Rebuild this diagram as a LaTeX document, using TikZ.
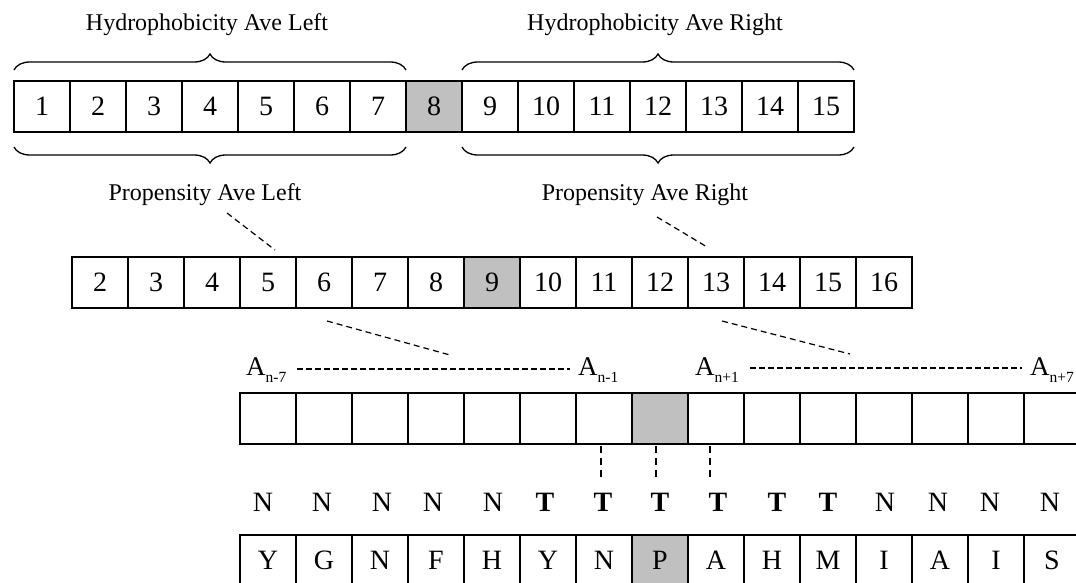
\documentclass[tikz,border=0pt]{standalone}
\usepackage{fontspec}
\setmainfont{Liberation Serif}
\usetikzlibrary{decorations.pathreplacing,calc}
\definecolor{cellgray}{HTML}{C0C0C0}
\tikzset{
  cell/.style={draw, line width=1.3pt, minimum width=56pt, minimum height=51pt,
    inner sep=0pt, outer sep=0pt, font=\fontsize{28}{30}\selectfont},
  hot/.style={cell, fill=cellgray, line width=2pt},
  caption/.style={font=\fontsize{24}{26}\selectfont, inner sep=0pt},
  tag/.style={font=\fontsize{27}{29}\selectfont, inner sep=0pt, anchor=base west},
  letter/.style={font=\fontsize{28}{30}\selectfont, inner sep=0pt},
  guide/.style={line width=1.2pt, dash pattern=on 6pt off 4pt},
  vguide/.style={line width=1.2pt, dash pattern=on 7pt off 5pt},
  curly/.style={line width=1.3pt, decorate, decoration={brace, amplitude=16pt}},
}
\newcommand{\subA}[1]{A\raisebox{-0.28em}{\fontsize{15.5}{17}\selectfont #1}}
\begin{document}
\begin{tikzpicture}[x=1pt, y=-1pt]
\useasboundingbox (0,0) rectangle (1076,583);
\clip (0,0) rectangle (1076,583);

% window of 15 residues, numbered 1..15
\foreach \k in {1,...,15} {
  \pgfmathtruncatemacro{\cx}{42+56*(\k-1)}
  \ifnum\k=8
    \node[hot] (t\k) at (\cx,106.5) {\k};
  \else
    \node[cell] (t\k) at (\cx,106.5) {\k};
  \fi
}

% braces and captions for the averages
\node[caption] (hl) at (207,25) {Hydrophobicity Ave Left};
\node[caption] (hr) at (655,25) {Hydrophobicity Ave Right};
\coordinate (hla) at ($(t1.north west)+(0,-11)$);
\coordinate (hlb) at ($(t7.north east)+(0,-11)$);
\coordinate (hra) at ($(t9.north west)+(0,-11)$);
\coordinate (hrb) at ($(t15.north east)+(0,-11)$);
\coordinate (pla) at ($(t1.south west)+(0,15)$);
\coordinate (plb) at ($(t7.south east)+(0,15)$);
\coordinate (pra) at ($(t9.south west)+(0,15)$);
\coordinate (prb) at ($(t15.south east)+(0,15)$);
\draw[curly] (hla) -- (hlb);
\draw[curly] (hra) -- (hrb);
\draw[curly, decoration={mirror}] (pla) -- (plb);
\draw[curly, decoration={mirror}] (pra) -- (prb);
\node[caption] (pl) at (205,195) {Propensity Ave Left};
\node[caption] (pr) at (645,195) {Propensity Ave Right};

% window shifted by one residue, numbered 2..16
\foreach \k in {2,...,16} {
  \pgfmathtruncatemacro{\cx}{100+56*(\k-2)}
  \ifnum\k=9
    \node[hot] (m\k) at (\cx,282.5) {\k};
  \else
    \node[cell] (m\k) at (\cx,282.5) {\k};
  \fi
}

\coordinate (plo) at (227,213);
\coordinate (pli) at (275,250);
\coordinate (pro) at (657,217);
\coordinate (pri) at (707,247);
\draw[guide] (plo) -- (pli);
\draw[guide] (pro) -- (pri);

% residue labels A_{n-7} ... A_{n+7}
\node[tag] (am7) at (246,375) {\subA{n-7}};
\node[tag] (am1) at (578,375) {\subA{n-1}};
\node[tag] (ap1) at (695,375) {\subA{n+1}};
\node[tag] (ap7) at (1030,375) {\subA{n+7}};
\coordinate (lla) at (297,369);
\coordinate (llb) at (570,369);
\coordinate (rla) at (750,368);
\coordinate (rlb) at (1022,368);
\draw[guide, dash pattern=on 6pt off 3pt] (lla) -- (llb);
\draw[guide, dash pattern=on 6pt off 3pt] (rla) -- (rlb);

\coordinate (mlo) at (327,321);
\coordinate (mli) at (450,355);
\coordinate (mro) at (722,321);
\coordinate (mri) at (850,354);
\draw[guide] (mlo) -- (mli);
\draw[guide] (mro) -- (mri);

% empty residue cells
\foreach \k in {1,...,15} {
  \pgfmathtruncatemacro{\cx}{268+56*(\k-1)}
  \ifnum\k=8
    \node[hot] (e\k) at (\cx,418.5) {};
  \else
    \node[cell] (e\k) at (\cx,418.5) {};
  \fi
}

% turn / non-turn assignment
\foreach \k/\x/\s in {1/263/N,2/322/N,3/382/N,4/433/N,5/493/N,
                     6/545/T,7/603/T,8/660/T,9/718/T,10/777/T,11/828/T,
                     12/885/N,13/938/N,14/990/N,15/1050/N} {
  \if\s T
    \node[letter, font=\fontsize{28}{30}\selectfont\bfseries] (l\k) at (\x,502) {\s};
  \else
    \node[letter] (l\k) at (\x,502) {\s};
  \fi
}

\coordinate (v7) at (601,446);
\coordinate (v8) at (656,446);
\coordinate (v9) at (710,446);
\coordinate (w7) at (601,478);
\coordinate (w8) at (656,478);
\coordinate (w9) at (710,478);
\draw[vguide] (v7) -- (w7);
\draw[vguide] (v8) -- (w8);
\draw[vguide] (v9) -- (w9);

% amino acid sequence
\foreach \k/\s in {1/Y,2/G,3/N,4/F,5/H,6/Y,7/N,8/P,9/A,10/H,11/M,12/I,13/A,14/I,15/S} {
  \pgfmathtruncatemacro{\cx}{268+56*(\k-1)}
  \ifnum\k=8
    \node[hot] (b\k) at (\cx,560.5) {\s};
  \else
    \node[cell] (b\k) at (\cx,560.5) {\s};
  \fi
}
\end{tikzpicture}
\end{document}
